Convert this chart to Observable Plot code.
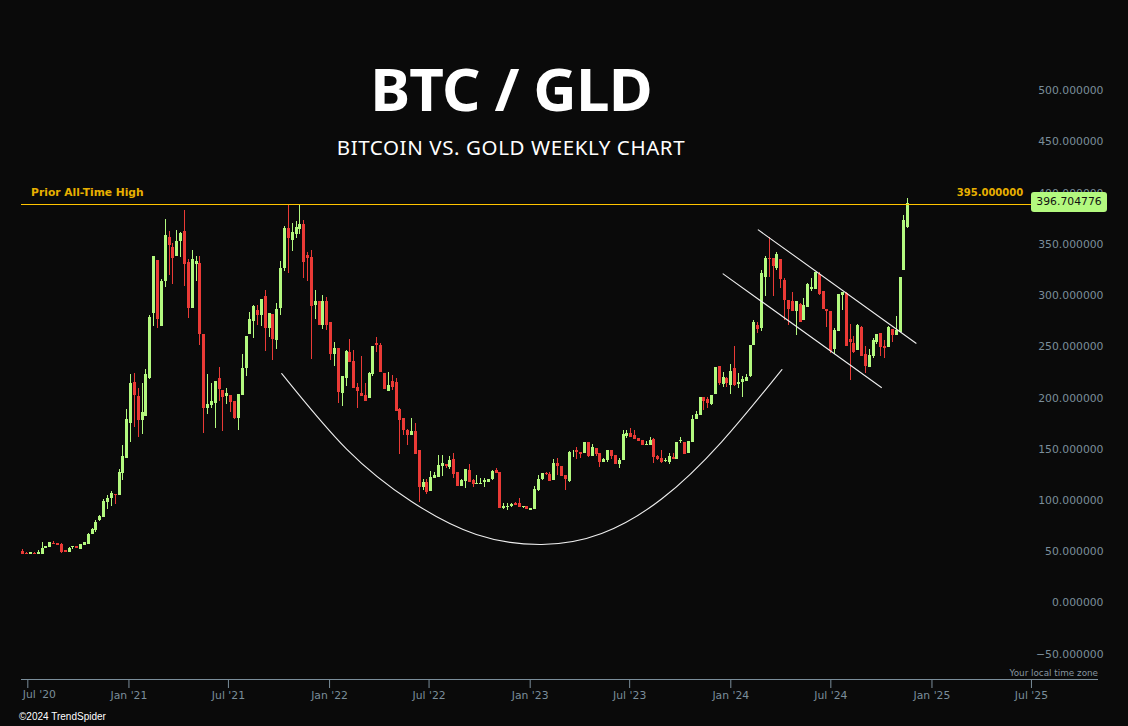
<!DOCTYPE html>
<html>
<head>
<meta charset="utf-8">
<title>BTC / GLD</title>
<script src="https://cdn.jsdelivr.net/npm/d3@7"></script>
<script src="https://cdn.jsdelivr.net/npm/@observablehq/plot@0.6"></script>
<style>
  html, body { margin: 0; padding: 0; background: #0a0a0a; overflow: hidden; }
  #root { position: relative; width: 1128px; height: 726px; background: #0a0a0a; }
  #root svg { display: block; }
  .over { position: absolute; white-space: nowrap; }
  #title { left: 0; width: 1022px; top: 49px; text-align: center; color: #fff; font: 700 60px/78px "Noto Sans"; letter-spacing: -0.8px; }
  #subtitle { left: 0; width: 1022px; top: 133px; text-align: center; color: #fff; font: 400 20.5px/28px "Noto Sans"; letter-spacing: 0.6px; }
  #tag { left: 1031px; top: 192px; width: 76px; height: 20px; background: #b3f97f; border-radius: 3px; color: #111; text-align: center; font: 400 10.8px/20px "DejaVu Sans"; }
  #zone { right: 30px; top: 667px; color: #8896a0; font: 400 8.8px/12px "DejaVu Sans"; }
  #copy { left: 19px; top: 711px; color: #fff; font: 400 10px/12px "Liberation Sans"; }
</style>
</head>
<body>
<div id="root">
  <div id="plot"></div>
  <div class="over" id="title">BTC / GLD</div>
  <div class="over" id="subtitle">BITCOIN VS. GOLD WEEKLY CHART</div>
  <div class="over" id="tag">396.704776</div>
  <div class="over" id="zone">Your local time zone</div>
  <div class="over" id="copy">©2024 TrendSpider</div>
</div>
<script>
const firstWeek = new Date("2020-06-22");

const opens = [
50.3,48.4,47.7,48.4,47.7,47.7,53.5,54.2,57.8,58.1,
57.1,50.9,49.6,54.2,54.8,52.6,56.5,57.5,66.6,71.1,
80.5,83.8,98.4,102.3,105.9,105.3,126.4,141.4,175.5,215.2,
201.6,178.5,182.4,219.1,282.6,334.3,270.2,314.1,356.7,347.0,
338.5,353.2,362.6,332.3,287.8,330.7,331.0,262.1,189.9,192.8,
195.0,219.1,207.4,201.6,202.5,196.7,180.1,202.9,229.2,262.1,
275.1,285.5,280.9,299.1,267.9,281.6,256.5,287.8,326.5,365.5,
353.8,359.7,364.5,369.4,339.2,337.2,290.4,294.3,270.9,294.3,
273.8,242.9,248.4,204.5,219.5,244.5,235.7,210.3,204.5,202.5,
199.9,223.0,253.3,251.3,224.0,206.8,216.2,215.2,188.9,180.1,
168.4,163.5,167.4,148.9,112.8,117.6,108.9,121.9,122.8,133.3,
135.2,132.3,140.1,127.4,114.1,118.6,129.3,119.6,116.0,116.0,
117.6,117.6,120.6,129.3,127.4,92.6,93.6,94.2,97.1,97.1,
93.2,94.2,90.3,91.3,109.8,120.6,126.4,125.4,119.6,136.2,
133.3,124.5,118.6,145.6,148.8,146.9,145.9,156.7,143.0,150.8,
145.9,137.1,139.1,148.8,144.0,135.2,139.1,162.5,165.4,163.5,
160.6,158.6,153.7,153.7,159.6,143.0,141.0,138.4,137.1,142.3,
140.1,158.0,156.7,145.9,157.0,179.1,183.0,200.6,198.6,193.7,
203.5,230.8,213.3,219.1,212.3,228.9,213.3,215.2,216.2,221.1,
251.3,270.9,268.3,317.7,336.3,336.3,326.5,335.3,314.8,295.3,
294.3,284.5,291.4,275.7,288.4,306.0,306.0,320.6,304.0,286.5,
284.5,247.4,265.0,300.2,302.1,257.2,253.3,246.5,268.9,242.6,
229.9,240.6,254.3,263.1,250.4,249.4,267.0,261.1,264.0,324.5,366.5];

const highs = [
52.3,49.6,49.0,49.0,51.3,59.1,55.2,58.8,60.1,58.1,
58.1,50.9,53.9,54.8,54.8,56.8,58.8,67.5,72.4,80.5,
85.8,100.7,104.6,108.5,105.9,130.0,153.4,188.9,223.0,224.0,
209.0,213.9,227.9,280.6,338.2,334.3,315.7,374.3,362.6,350.9,
363.6,361.6,383.1,335.3,344.0,338.2,338.2,262.1,223.0,214.2,
216.2,229.9,207.4,209.0,202.5,196.7,203.5,242.6,260.1,283.5,
290.4,290.4,296.2,305.0,282.6,281.6,292.3,333.3,367.5,388.6,
370.4,372.3,388.3,373.3,342.1,344.0,305.0,294.3,300.1,298.2,
273.8,254.3,248.4,221.1,246.5,257.2,246.5,214.2,240.6,214.2,
225.0,250.4,259.1,253.3,224.0,225.0,222.1,219.1,189.9,180.1,
169.4,180.1,175.2,148.9,120.6,120.6,128.4,127.4,144.0,144.0,
135.2,143.0,145.9,127.4,120.6,130.3,135.2,120.6,124.5,121.5,
121.5,120.6,129.3,131.3,127.4,97.5,97.5,97.5,98.4,102.3,
94.2,94.2,92.2,113.7,124.5,126.4,127.4,127.4,140.1,141.1,
133.3,124.5,147.9,148.8,151.8,146.9,156.7,156.7,154.7,150.8,
145.9,141.0,148.8,148.8,144.0,141.0,168.4,168.4,170.3,168.4,
160.6,158.6,157.6,161.5,160.6,144.0,148.8,141.0,145.9,145.9,
156.7,161.5,156.7,157.6,183.0,186.9,200.6,200.6,200.6,202.5,
229.9,230.8,225.0,220.1,232.8,250.3,224.0,221.1,223.0,251.3,
275.7,273.8,324.5,338.2,356.8,336.3,342.1,335.3,316.7,295.3,
303.1,294.3,292.3,297.2,311.9,316.7,322.6,322.6,304.0,286.5,
284.5,267.9,301.1,303.1,303.1,271.8,260.1,271.8,269.9,250.4,
247.4,258.2,262.1,263.1,256.2,269.9,267.0,279.7,317.7,378.2,394.8];

const lows = [
47.7,47.7,47.7,47.7,47.7,47.7,53.5,54.2,57.1,56.5,
48.7,49.6,49.6,52.6,53.5,52.6,56.5,57.5,66.6,69.2,
79.9,83.8,91.6,94.5,96.5,105.3,119.9,141.4,157.0,171.3,
161.9,164.5,182.4,218.5,270.2,268.3,270.2,308.3,319.6,311.2,
338.5,337.2,309.2,278.0,287.8,314.1,251.7,165.8,184.3,190.2,
170.7,197.0,167.7,194.1,186.0,179.4,168.7,202.9,221.4,262.1,
258.5,270.9,270.2,245.5,259.5,237.0,247.4,280.9,323.5,321.9,
343.4,355.8,360.0,317.0,314.1,238.0,276.7,270.9,267.0,266.3,
237.0,230.8,195.1,192.1,211.6,235.1,209.7,190.2,201.6,197.0,
199.9,221.4,244.8,225.3,208.7,206.8,207.7,187.2,145.3,163.5,
153.7,163.5,145.3,98.4,109.8,105.9,108.9,121.9,122.8,123.5,
131.3,130.6,121.5,114.1,114.1,112.1,117.6,112.8,116.0,116.0,
112.8,117.6,119.6,126.4,92.6,91.6,90.3,93.6,95.2,93.2,
92.2,91.3,90.3,91.3,108.9,119.6,124.5,118.6,119.6,124.5,
123.5,109.8,117.6,142.0,140.1,141.0,145.9,142.0,143.0,143.0,
132.3,137.1,137.1,140.1,135.2,131.3,139.1,160.6,161.5,159.6,
157.6,153.7,153.7,153.7,136.2,139.1,136.2,137.1,135.2,140.1,
140.1,155.7,144.9,145.9,157.0,179.1,183.0,187.9,189.8,192.8,
203.5,212.3,210.3,210.3,203.5,211.3,209.4,200.6,216.2,220.1,
251.3,263.1,265.0,299.2,317.7,299.2,324.5,307.0,275.7,270.9,
284.5,261.1,273.8,275.7,288.4,304.0,306.0,300.2,286.5,268.9,
243.5,242.6,265.0,285.5,250.4,217.2,243.5,246.5,240.6,224.0,
229.9,238.7,252.3,240.6,238.7,249.4,254.3,261.1,264.0,324.5,365.5];

const closes = [
47.7,47.7,49.0,47.7,49.0,52.9,55.2,58.8,57.1,56.5,
49.6,49.6,52.9,54.8,53.5,56.8,58.8,66.6,71.8,78.6,
84.4,99.1,101.7,106.9,104.6,127.1,143.0,179.1,213.9,202.9,
178.5,186.0,223.0,278.7,338.2,277.0,313.8,358.7,349.3,336.6,
352.8,360.6,330.7,287.8,335.3,333.3,262.4,190.2,193.8,196.7,
216.2,208.7,200.9,204.5,195.7,180.1,203.5,228.9,260.1,276.7,
289.4,280.3,296.2,267.9,282.6,257.2,286.5,326.5,365.5,356.1,
361.6,366.5,369.4,332.3,336.2,289.4,294.3,270.9,294.3,270.9,
242.9,248.4,205.8,221.1,245.5,235.1,209.7,206.4,201.6,197.0,
224.0,250.4,251.3,225.3,208.7,212.3,210.3,187.2,178.5,168.4,
163.5,167.4,145.3,113.1,117.6,107.9,122.5,124.5,134.2,136.2,
133.3,139.1,125.8,114.1,119.6,130.3,117.6,116.0,116.3,116.3,
119.6,120.6,128.4,126.4,92.6,94.5,94.2,96.2,95.2,93.2,
94.2,91.3,92.2,110.8,120.6,126.4,125.4,118.6,136.2,133.3,
123.5,120.6,146.9,146.2,146.9,144.9,156.7,143.0,151.8,144.9,
137.1,140.1,148.8,143.0,135.2,139.1,164.5,165.4,161.5,159.6,
157.6,153.7,154.7,158.6,142.0,140.1,137.1,139.4,143.0,140.1,
156.7,158.6,144.9,157.6,179.1,184.0,200.6,196.7,194.7,202.5,
229.9,214.2,220.1,214.2,225.9,212.3,215.2,218.1,220.1,251.3,
273.8,267.0,321.6,336.3,335.6,328.5,340.2,315.8,295.3,286.5,
284.5,294.3,273.8,290.4,310.9,308.0,322.6,301.1,286.5,284.5,
245.5,266.0,301.1,303.1,250.4,254.3,244.5,270.9,240.6,230.9,
241.6,256.2,262.1,249.4,248.4,268.9,261.1,266.0,317.7,373.3,389.9];

const yTicks = [-50, 0, 50, 100, 150, 200, 250, 300, 350, 400, 450, 500];
const xTickDates = ["2020-07-01","2021-01-01","2021-07-01","2022-01-01","2022-07-01","2023-01-01","2023-07-01","2024-01-01","2024-07-01","2025-01-01","2025-07-01"].map(d => new Date(d));
const xTickLabels = ["Jul '20","Jan '21","Jul '21","Jan '22","Jul '22","Jan '23","Jul '23","Jan '24","Jul '24","Jan '25","Jul '25"];

const cupDates = ["2021-10-06","2022-02-01","2022-05-30","2022-09-25","2023-01-22","2023-05-11","2023-08-28","2023-12-15","2024-04-03"].map(d => new Date(d));
const cupValues = [224.0,150.3,99.1,66.9,57.1,67.8,101.5,157.1,227.9];

const channelUpperDates = ["2024-02-20","2024-12-03"].map(d => new Date(d));
const channelUpperValues = [364.2, 253.6];
const channelLowerDates = ["2023-12-18","2024-10-01"].map(d => new Date(d));
const channelLowerValues = [321.3, 210.3];

const priorHighLine = 388.6;
const priorHighLabel = "Prior All-Time High";
const priorHighValue = "395.000000";
const labelLevel = 400.7;

const GREEN = "#b3f97f", RED = "#ea3a36", GOLD = "#ffc400", GOLDTEXT = "#e8b000", AXIS = "#7b8e9b", LINE = "#eeeeee";

const weeks = opens.map((_, i) => ({
  date: d3.utcWeek.offset(firstWeek, i),
  open: opens[i], high: highs[i], low: lows[i], close: closes[i],
  up: closes[i] >= opens[i]
}));
const fmtTick = new Map(xTickDates.map((d, i) => [+d, i === 0 ? "" : xTickLabels[i]]));
const seg = (ds, vs) => ds.map((d, i) => ({date: d, value: vs[i]}));

const chart = Plot.plot({
  width: 1128,
  height: 726,
  marginTop: 0,
  marginLeft: 21,
  marginRight: 30,
  marginBottom: 47,
  style: {background: "#0a0a0a", fontFamily: "DejaVu Sans", fontSize: "10.8px"},
  x: {type: "utc", domain: [new Date("2020-06-19T12:00Z"), new Date("2025-10-31")], label: null},
  y: {domain: [-74.67, 588.1], label: null},
  marks: [
    Plot.axisY({anchor: "right", ticks: yTicks, tickSize: 0, tickPadding: 5, textAnchor: "end", fill: AXIS, label: null,
      tickFormat: d => d3.format(".6f")(d).replace("-", "−")}),
    Plot.axisX({anchor: "bottom", ticks: xTickDates, tickSize: 9, tickPadding: 3, stroke: AXIS, fill: AXIS, label: null,
      tickFormat: d => fmtTick.get(+d)}),
    Plot.text([xTickLabels[0]], {x: xTickDates.slice(0, 1), frameAnchor: "bottom", dy: 18, dx: -5, textAnchor: "start", fill: AXIS, text: d => d}),
    Plot.ruleY([-74.67], {stroke: AXIS, strokeWidth: 1}),
    Plot.ruleX(weeks, {x: "date", y1: "low", y2: "high", stroke: d => d.up ? GREEN : RED, strokeWidth: 1, shapeRendering: "crispEdges"}),
    Plot.ruleX(weeks, {x: "date", y1: "open", y2: "close", stroke: d => d.up ? GREEN : RED, strokeWidth: 3, shapeRendering: "crispEdges"}),
    Plot.ruleY([priorHighLine], {stroke: GOLD, strokeWidth: 1, shapeRendering: "crispEdges"}),
    Plot.line(seg(cupDates, cupValues), {x: "date", y: "value", stroke: LINE, strokeWidth: 1.1, curve: "natural"}),
    Plot.line(seg(channelUpperDates, channelUpperValues), {x: "date", y: "value", stroke: LINE, strokeWidth: 1.1}),
    Plot.line(seg(channelLowerDates, channelLowerValues), {x: "date", y: "value", stroke: LINE, strokeWidth: 1.1}),
    Plot.text([priorHighLabel], {x: [new Date("2020-07-07")], y: [labelLevel], textAnchor: "start", fill: GOLDTEXT, fontWeight: 700, fontSize: 10.7, text: d => d}),
    Plot.text([priorHighValue], {x: [new Date("2025-06-16")], y: [labelLevel], textAnchor: "end", fill: GOLDTEXT, fontWeight: 700, fontSize: 10, text: d => d})
  ]
});
document.getElementById("plot").appendChild(chart);
</script>
</body>
</html>
